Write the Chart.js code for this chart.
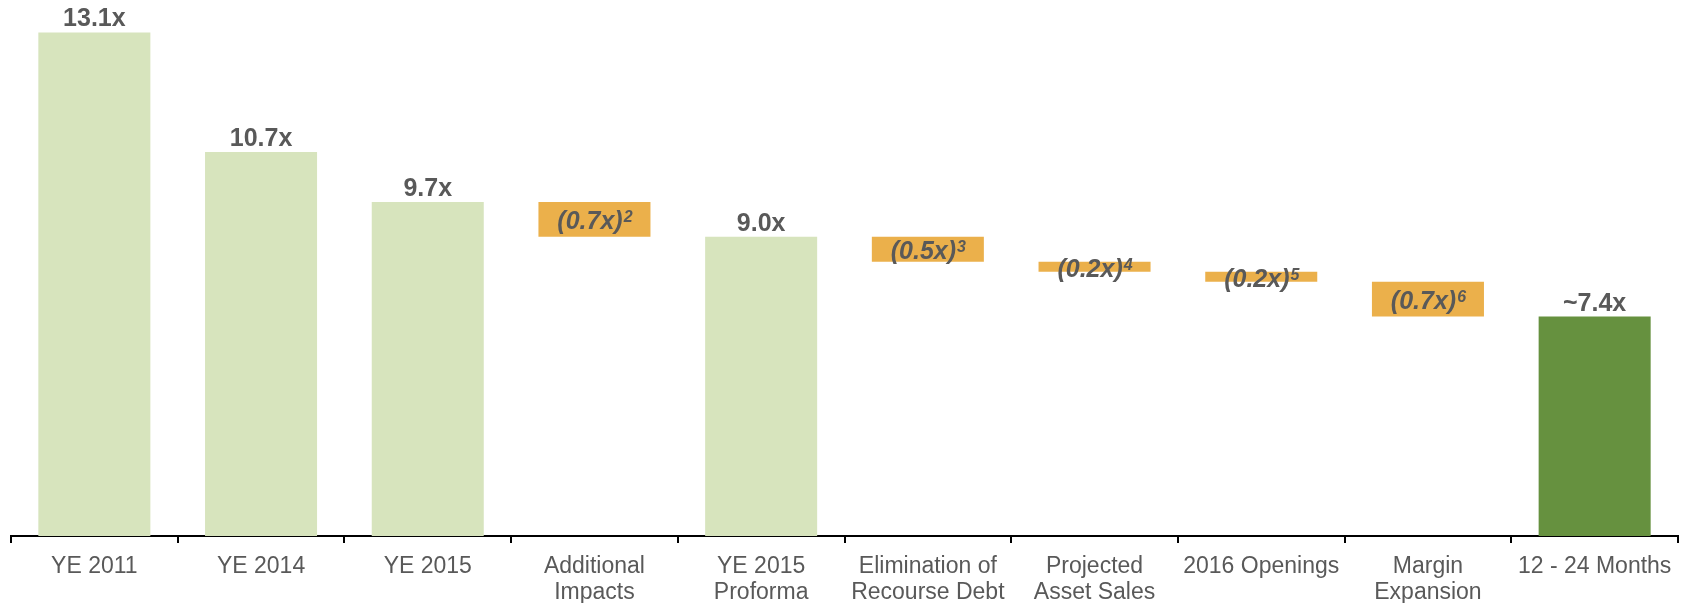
<!DOCTYPE html>
<html>
<head>
<meta charset="utf-8">
<script src="https://cdn.jsdelivr.net/npm/chart.js@4"></script>
<style>
  html, body { margin: 0; padding: 0; background: #ffffff; }
  #wrap { width: 1688px; height: 603px; position: relative; }
</style>
</head>
<body>
<div id="wrap"><canvas id="c" width="1688" height="603"></canvas></div>
<script>
// ---- Data ----
const categories = [
  ["YE 2011"], ["YE 2014"], ["YE 2015"], ["Additional", "Impacts"], ["YE 2015", "Proforma"],
  ["Elimination of", "Recourse Debt"], ["Projected", "Asset Sales"], ["2016 Openings"],
  ["Margin", "Expansion"], ["12 - 24 Months"]
];
const totals  = [13.1, 10.7, 9.7, null, 9.0, null, null, null, null, 7.4];
const changes = [null, null, null, -0.7, null, -0.5, -0.2, -0.2, -0.7, null];
const valueLabels = ["13.1x", "10.7x", "9.7x", "(0.7x)", "9.0x", "(0.5x)", "(0.2x)", "(0.2x)", "(0.7x)", "~7.4x"];
const footnotes   = ["", "", "", "2", "", "3", "4", "5", "6", ""];
const axisMin = 3;
const axisMax = 13.75;

// colours
const historicColor = "#D7E4BD";
const changeColor   = "#EBB04B";
const targetColor   = "#66913F";
const textColor     = "#595959";

// build floating ranges from the running level
const ranges = [];
let level = 0;
for (let i = 0; i < categories.length; i++) {
  if (totals[i] !== null) {
    ranges.push([axisMin, totals[i]]);
    level = totals[i];
  } else {
    const next = Math.round((level + changes[i]) * 10) / 10;
    ranges.push([next, level]);
    level = next;
  }
}
const colors = categories.map((_, i) =>
  totals[i] === null ? changeColor : (i === categories.length - 1 ? targetColor : historicColor));

const labelPlugin = {
  id: "valueLabels",
  afterDatasetsDraw(chart) {
    const ctx = chart.ctx;
    const meta = chart.getDatasetMeta(0);
    ctx.save();
    ctx.fillStyle = textColor;
    meta.data.forEach((bar, i) => {
      const top = Math.min(bar.y, bar.base);
      const bottom = Math.max(bar.y, bar.base);
      if (totals[i] !== null) {
        ctx.font = "bold 25px 'Liberation Sans', Arial, sans-serif";
        ctx.textAlign = "center";
        ctx.textBaseline = "alphabetic";
        ctx.fillText(valueLabels[i], bar.x, top - 6);
      } else {
        const mainFont = "italic bold 25px 'Liberation Sans', Arial, sans-serif";
        const supFont = "italic bold 16px 'Liberation Sans', Arial, sans-serif";
        ctx.font = mainFont;
        const w1 = ctx.measureText(valueLabels[i]).width;
        ctx.font = supFont;
        const w2 = ctx.measureText(footnotes[i]).width;
        const startX = bar.x - (w1 + w2) / 2;
        const cy = (top + bottom) / 2 + 1;
        ctx.textAlign = "left";
        ctx.textBaseline = "alphabetic";
        ctx.font = mainFont;
        const baseY = cy + 9;
        ctx.fillText(valueLabels[i], startX, baseY);
        ctx.font = supFont;
        ctx.fillText(footnotes[i], startX + w1 + 1, baseY - 7);
      }
    });
    ctx.restore();
  }
};

new Chart(document.getElementById("c"), {
  type: "bar",
  data: {
    labels: categories,
    datasets: [{
      data: ranges,
      backgroundColor: colors,
      borderWidth: 0,
      borderSkipped: false,
      categoryPercentage: 1.0,
      barPercentage: 0.672
    }]
  },
  options: {
    responsive: false,
    animation: false,
    layout: { padding: { left: 11, right: 10, top: 0, bottom: 0 } },
    plugins: {
      legend: { display: false },
      tooltip: { enabled: false }
    },
    scales: {
      x: {
        grid: {
          display: true,
          drawOnChartArea: false,
          drawTicks: true,
          tickLength: 7,
          color: "#000000",
          lineWidth: 2,
          offset: true
        },
        border: { display: true, color: "#000000", width: 2 },
        ticks: {
          color: textColor,
          font: { family: "'Liberation Sans', Arial, sans-serif", size: 23, lineHeight: 1.15 },
          padding: 10,
          maxRotation: 0,
          autoSkip: false
        },
        afterFit(scale) { scale.height = 67; }
      },
      y: {
        display: false,
        min: axisMin,
        max: axisMax
      }
    }
  },
  plugins: [labelPlugin]
});
</script>
</body>
</html>
